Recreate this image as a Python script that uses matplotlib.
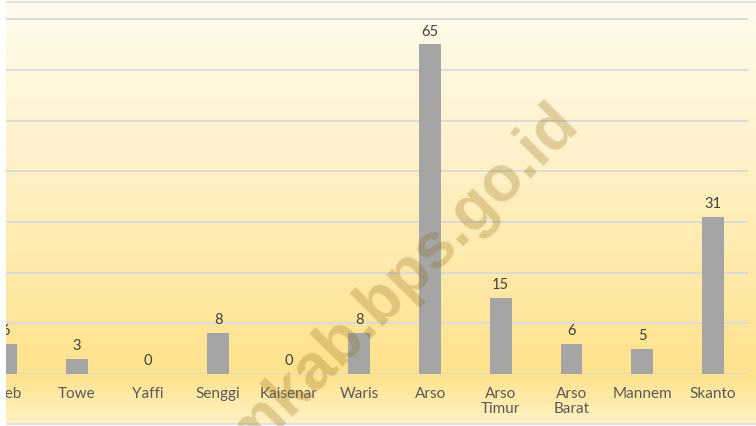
import numpy as np
import matplotlib
matplotlib.use("Agg")
import matplotlib.pyplot as plt
from matplotlib.colors import LinearSegmentedColormap
from matplotlib.patches import Rectangle

categories = ["Web", "Towe", "Yaffi", "Senggi", "Kaisenar", "Waris", "Arso",
              "Arso\nTimur", "Arso\nBarat", "Mannem", "Skanto"]
values = [6, 3, 0, 8, 0, 8, 65, 15, 6, 5, 31]
watermark = "keeromkab.bps.go.id"

W, H = 756, 427
fig = plt.figure(figsize=(W / 100, H / 100), dpi=100)
fig.patch.set_facecolor("white")

# background gradient (chart area)
bg = fig.add_axes([0, 2 / H, 1, (425 - 2) / H])
bg.set_axis_off()
cmap = LinearSegmentedColormap.from_list(
    "bg", [(0.0, "#FFF2C4"), (0.118, "#FFE28C"), (0.6, "#FFF1C6"), (1.0, "#FFFBEE")])
grad = np.linspace(0, 1, 256).reshape(-1, 1)
bg.imshow(grad, aspect="auto", cmap=cmap, origin="lower", extent=[0, 1, 0, 1])
bg.set_xlim(0, 1)
bg.set_ylim(0, 1)
fig.add_artist(plt.Line2D([0, 1], [1 - 3 / H, 1 - 3 / H], color="#DCDCDC", lw=1.2, transform=fig.transFigure))
fig.add_artist(plt.Line2D([0, 1], [2 / H, 2 / H], color="#DCDCDC", lw=1.2, transform=fig.transFigure))

ax = fig.add_axes([6 / W, (H - 375) / H, (748 - 6) / W, (375 - 3) / H])
ax.patch.set_alpha(0)
x = np.arange(len(categories))
px_per_cat = 70.8
center0 = 4.8
ax.set_xlim((6 - center0) / px_per_cat, (748 - center0) / px_per_cat)
ax.set_ylim(0, 372 / 5.07)
ax.set_yticks(np.arange(0, 71, 10))
ax.yaxis.grid(True, color="#D9D9D9", lw=1.3)
ax.set_axisbelow(True)
for s in ax.spines.values():
    s.set_visible(False)
ax.tick_params(axis="y", left=False, labelleft=False)
ax.tick_params(axis="x", bottom=False, pad=5)

font = "Lato"
ax.bar(x, values, width=0.31, color="#A5A5A5", zorder=3)
ax.set_xticks(x)
ax.set_xticklabels(categories, fontsize=11, color="#595959", family=font, linespacing=1.12)
for xi, v in zip(x, values):
    ax.annotate(str(v), (xi, v), xytext=(0, 5), textcoords="offset points",
                ha="center", va="bottom", fontsize=10.5, color="#404040", family=font)

fig.text(580 / W, 1 - 125 / H, watermark, rotation=45, rotation_mode="anchor",
         ha="right", va="baseline", fontsize=46, fontweight="bold",
         family="Liberation Sans", color="#8B6914", alpha=0.27, zorder=10)

# white strip at the left edge (cropped screenshot)
fig.add_artist(Rectangle((0, 0), 6 / W, 1, transform=fig.transFigure,
                         facecolor="white", edgecolor="none", zorder=20))

fig.savefig("out.png", dpi=100)
